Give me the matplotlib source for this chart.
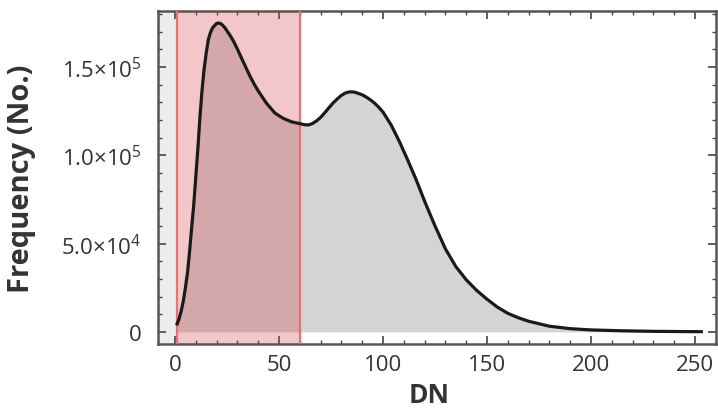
import matplotlib
matplotlib.use("Agg")
import matplotlib.pyplot as plt
from matplotlib.ticker import MultipleLocator, FuncFormatter

plt.rcParams['font.family'] = ['Open Sans', 'DejaVu Sans']
plt.rcParams['mathtext.fontset'] = 'custom'
plt.rcParams['mathtext.rm'] = 'Open Sans'
plt.rcParams['mathtext.default'] = 'regular'

# histogram of digital numbers
dn = [1, 2, 3, 4, 5, 6, 7, 8, 9, 10, 11, 12, 13, 14, 15, 16, 17, 18, 20, 21,
      22, 23, 24, 26, 28, 30, 32, 34, 36, 38, 40, 44, 48, 52, 56, 60, 62, 64,
      66, 68, 70, 72, 74, 76, 78, 80, 82, 84, 86, 88, 90, 92, 94, 96, 98, 100,
      104, 108, 112, 116, 120, 125, 130, 135, 140, 145, 150, 155, 160, 165,
      170, 180, 190, 200, 215, 230, 245, 253]
freq = [4500, 7500, 12000, 17500, 25000, 33500, 45500, 59000, 72000, 88000,
        104000, 122000, 137000, 149000, 158000, 165500, 169500, 172200, 174800,
        175000, 174600, 173600, 172300, 168800, 165000, 160200, 155000, 150000,
        145000, 140500, 136500, 129500, 124000, 121000, 119000, 118000, 117400,
        117200, 118000, 119500, 121500, 124200, 127000, 129700, 132000, 134000,
        135400, 136000, 135900, 135200, 134300, 133000, 131400, 129500, 127200,
        124500, 117000, 107500, 97000, 86000, 74000, 60000, 47000, 37000, 29500,
        23500, 18500, 14000, 10500, 8000, 6000, 3200, 1800, 1100, 600, 300,
        150, 100]

# highlighted DN range
sel_lo = 1
sel_hi = 60

fig = plt.figure(figsize=(7.18, 4.14), dpi=100)
ax = fig.add_axes([0.220, 0.167, 0.777, 0.804])

txt = '#333333'

ax.axvspan(-8.2, sel_lo, color='#ececec', lw=0, zorder=0)
ax.fill_between(dn, freq, 0, color='#d4d4d4', lw=0, zorder=1)
ax.axvspan(sel_lo, sel_hi, facecolor=(0.84, 0.22, 0.24, 0.28), edgecolor='none', zorder=2)
ax.axvline(sel_lo, color='#e57373', lw=1.6, zorder=3)
ax.axvline(sel_hi, color='#e57373', lw=1.6, zorder=3)
ax.plot(dn, freq, color='#1a1a1a', lw=2.3, zorder=4, solid_joinstyle='round')

ax.set_xlim(-8.2, 260)
ax.set_ylim(-6800, 181800)

ax.xaxis.set_major_locator(MultipleLocator(50))
ax.xaxis.set_minor_locator(MultipleLocator(10))
ax.yaxis.set_major_locator(MultipleLocator(50000))
ax.yaxis.set_minor_locator(MultipleLocator(10000))


def sci(v, pos):
    if v == 0:
        return '0'
    e = 0
    m = v
    while abs(m) >= 10:
        m /= 10
        e += 1
    return r'$%.1f{\times}10^{%d}$' % (m, e)


ax.yaxis.set_major_formatter(FuncFormatter(sci))

ax.tick_params(which='both', direction='in', top=True, right=True,
               color='#444444', labelcolor=txt, labelsize=16)
ax.tick_params(which='major', length=6, width=1.2)
ax.tick_params(which='minor', length=3, width=1.0)
ax.tick_params(axis='x', which='major', pad=7)
ax.tick_params(axis='y', which='major', pad=12)

for s in ax.spines.values():
    s.set_color('#555555')
    s.set_linewidth(1.8)

ax.set_xlabel('DN', fontsize=19, fontweight='bold', color=txt)
ax.set_ylabel('Frequency (No.)', fontsize=21, fontweight='bold', color=txt)
ax.xaxis.set_label_coords(0.486, -0.112)
ax.yaxis.set_label_coords(-0.219, 0.5)

fig.savefig('out.png', dpi=100)
